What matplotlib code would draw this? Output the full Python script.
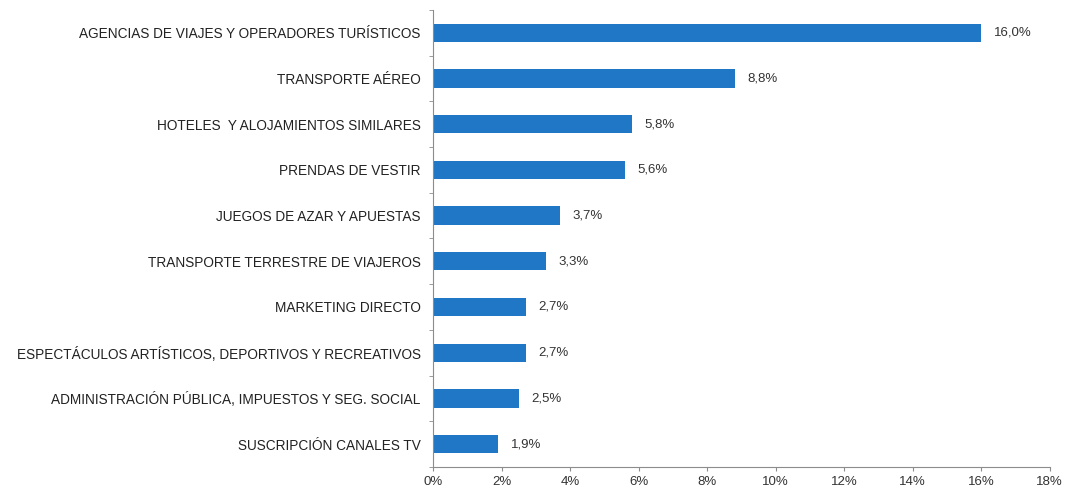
import matplotlib.pyplot as plt
import numpy as np
from matplotlib.ticker import FuncFormatter, MultipleLocator

plt.rcParams['font.family'] = ['Liberation Sans', 'DejaVu Sans']

categorias = [
    "AGENCIAS DE VIAJES Y OPERADORES TURÍSTICOS",
    "TRANSPORTE AÉREO",
    "HOTELES  Y ALOJAMIENTOS SIMILARES",
    "PRENDAS DE VESTIR",
    "JUEGOS DE AZAR Y APUESTAS",
    "TRANSPORTE TERRESTRE DE VIAJEROS",
    "MARKETING DIRECTO",
    "ESPECTÁCULOS ARTÍSTICOS, DEPORTIVOS Y RECREATIVOS",
    "ADMINISTRACIÓN PÚBLICA, IMPUESTOS Y SEG. SOCIAL",
    "SUSCRIPCIÓN CANALES TV",
]
valores = [16.0, 8.8, 5.8, 5.6, 3.7, 3.3, 2.7, 2.7, 2.5, 1.9]

color_barra = '#1f77c6'
color_eje = '#8c8c8c'

fig = plt.figure(figsize=(10.7, 4.91), dpi=100)
ax = fig.add_axes([0.405, 0.049, 0.576, 0.931])

y = np.arange(len(categorias))
ax.barh(y, valores, height=0.4, color=color_barra)
ax.set_ylim(len(categorias) - 0.5, -0.5)
ax.set_xlim(0, 18)

# etiquetas de valor con coma decimal
for yi, v in zip(y, valores):
    ax.text(v + 0.36, yi, f"{v:.1f}%".replace('.', ','), va='center', ha='left',
            fontsize=9.5, color='#333333')

ax.set_yticks(y)
ax.set_yticklabels(categorias, fontsize=9.8, color='#222222')
ax.set_yticks(np.arange(-0.5, len(categorias)), minor=True)
ax.tick_params(axis='y', which='major', length=0, pad=9)
ax.tick_params(axis='y', which='minor', length=3, color=color_eje)

ax.xaxis.set_major_locator(MultipleLocator(2))
ax.xaxis.set_major_formatter(FuncFormatter(lambda x, p: f"{x:.0f}%"))
ax.tick_params(axis='x', length=3, color=color_eje, labelsize=9.5, labelcolor='#333333')

for s in ['top', 'right']:
    ax.spines[s].set_visible(False)
for s in ['left', 'bottom']:
    ax.spines[s].set_color(color_eje)

fig.savefig('out.png', dpi=100)
